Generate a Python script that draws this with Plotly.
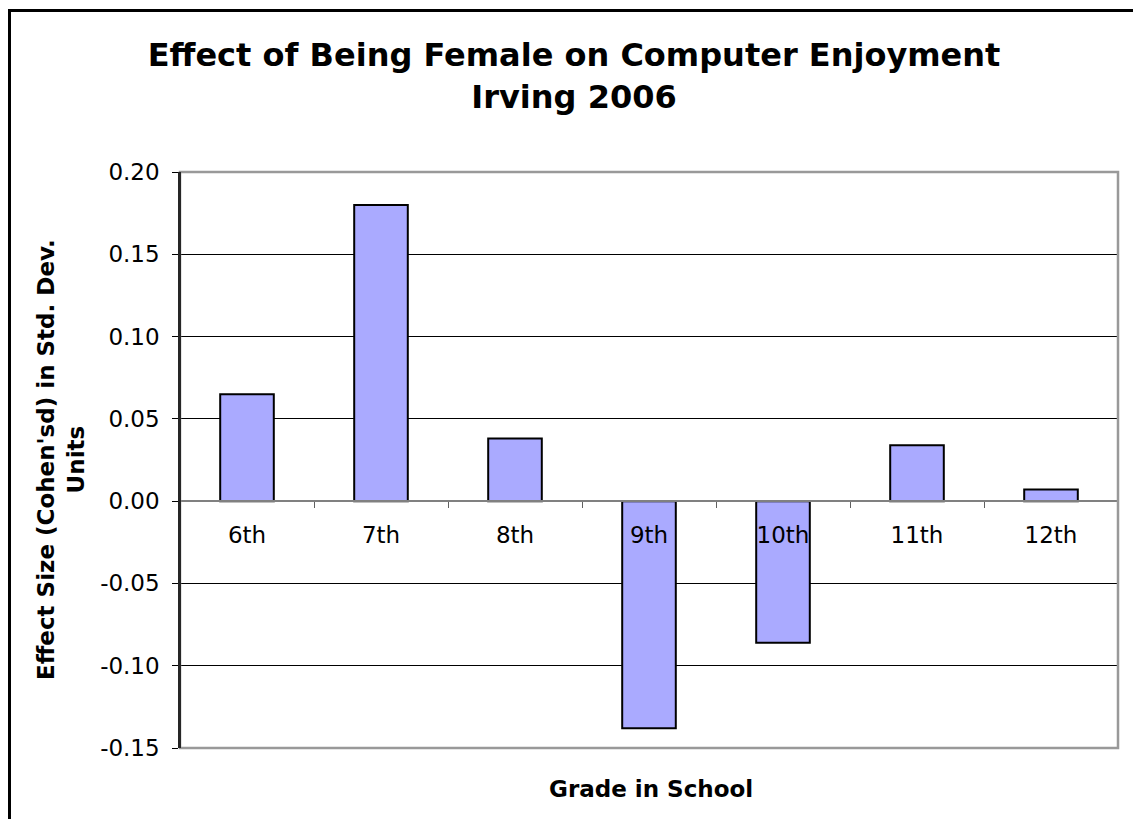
import plotly.graph_objects as go

grades = ["6th", "7th", "8th", "9th", "10th", "11th", "12th"]
effect = [0.065, 0.180, 0.038, -0.138, -0.086, 0.034, 0.007]
y_ticks = [0.20, 0.15, 0.10, 0.05, 0.00, -0.05, -0.10, -0.15]
y_tick_text = ["0.20", "0.15", "0.10", "0.05", "0.00", "-0.05", "-0.10", "-0.15"]

W, H = 1133, 819
L, R, T, B = 180, 1133 - 1118, 172, 819 - 748
pw, ph = W - L - R, H - T - B

def px(x):
    return (x - L) / pw

def py(y):
    return (H - B - y) / ph

FONT = "DejaVu Sans, Verdana, sans-serif"
ymin, ymax = -0.15, 0.20

fig = go.Figure(go.Bar(
    x=grades, y=effect,
    marker=dict(color="#AAAAFF", line=dict(color="black", width=2)),
    width=0.4,
))

fig.update_layout(
    width=W, height=H,
    margin=dict(l=L, r=R, t=T, b=B),
    paper_bgcolor="white", plot_bgcolor="white",
    showlegend=False,
    font=dict(family=FONT, color="black"),
    title=dict(
        text="Effect of Being Female on Computer Enjoyment<br>Irving 2006",
        font=dict(family=FONT, size=32, color="black", weight="bold", lineposition="none"),
        x=574 / W, xanchor="center", xref="container",
        y=1 - 66 / H, yanchor="middle", yref="container",
    ),
    xaxis=dict(
        type="category",
        anchor="free", position=(0 - ymin) / (ymax - ymin),
        showline=True, linecolor="#808080", linewidth=1.5,
        ticks="outside", tickson="boundaries", ticklen=6, tickcolor="#606060", tickwidth=1,
        tickfont=dict(size=23, family=FONT, color="black"),
        ticklabelstandoff=14,
        showgrid=False,
    ),
    yaxis=dict(
        range=[ymin, ymax],
        tickvals=y_ticks, ticktext=y_tick_text,
        showline=True, linecolor="black", linewidth=1.5,
        ticks="outside", ticklen=6, tickcolor="black",
        tickfont=dict(size=23, family=FONT, color="black"),
        ticklabelstandoff=8,
        showgrid=True, gridcolor="black", gridwidth=1,
        zeroline=True, zerolinecolor="#808080", zerolinewidth=1.5,
    ),
    shapes=[
        dict(type="rect", xref="paper", yref="paper", x0=0, x1=1, y0=0, y1=1,
             line=dict(color="#999999", width=2.5), fillcolor="rgba(0,0,0,0)", layer="above"),
        dict(type="line", xref="paper", yref="paper", x0=0, x1=0, y0=0, y1=1,
             line=dict(color="black", width=1.5), layer="above"),
        dict(type="rect", xref="paper", yref="paper",
             x0=px(9.5), x1=px(1200), y0=py(1000), y1=py(10.5),
             line=dict(color="black", width=3), fillcolor="rgba(0,0,0,0)", layer="above"),
    ],
    annotations=[
        dict(text="Effect Size (Cohen'sd) in Std. Dev.<br>Units", textangle=-90,
             xref="paper", yref="paper", x=px(61), y=0.5, xanchor="center", yanchor="middle",
             showarrow=False, font=dict(family=FONT, size=23, color="black", weight="bold")),
        dict(text="Grade in School",
             xref="paper", yref="paper", x=px(651), y=py(789), xanchor="center", yanchor="middle",
             showarrow=False, font=dict(family=FONT, size=23, color="black", weight="bold")),
    ],
)

fig.write_html("out.html")
